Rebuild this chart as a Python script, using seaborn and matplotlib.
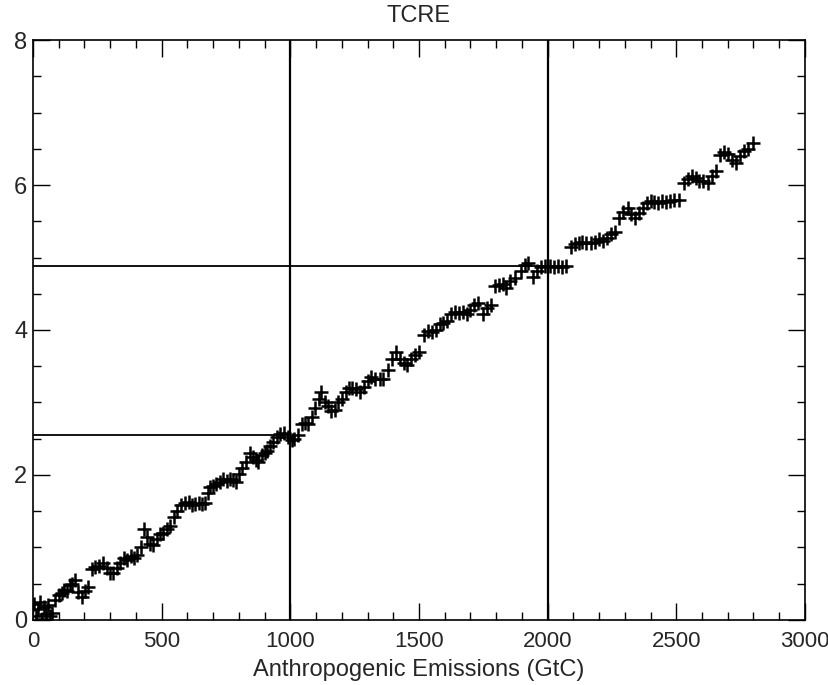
import matplotlib
matplotlib.use("Agg")
import matplotlib.pyplot as plt
import matplotlib.transforms as mtransforms
import seaborn as sns
import pandas as pd
from matplotlib.ticker import MultipleLocator

sns.set_theme(style="white")
plt.rcParams['font.family'] = ['Liberation Sans', 'DejaVu Sans']

emissions = [5, 12, 20, 28, 35, 42, 50, 58, 66, 75, 85,
             100, 112, 122, 132, 142, 152, 163, 175, 190, 203, 215, 230, 242, 257, 273, 288, 300,
             312, 325, 340, 352, 365, 380, 393, 404, 418, 430, 442, 455, 468, 480, 493, 507, 520,
             533, 547, 560, 575, 591, 605, 618, 630, 645, 657, 669, 680, 689, 700, 713, 728, 740,
             753, 767, 778, 787, 800, 813, 828, 844, 856, 866, 876, 890, 900, 910, 922, 934, 948,
             961, 975, 990, 1005, 1015, 1030, 1045, 1058, 1070, 1085, 1097, 1110, 1120, 1133, 1147,
             1160, 1172, 1185, 1202, 1215, 1228, 1240, 1255, 1272, 1285, 1300, 1315, 1330, 1348,
             1362, 1380, 1395, 1410, 1425, 1440, 1455, 1470, 1485, 1500, 1518, 1535, 1550, 1565,
             1580, 1595, 1610, 1625, 1640, 1655, 1670, 1685, 1700, 1715, 1730, 1750, 1765, 1780,
             1797, 1810, 1825, 1840, 1855, 1875, 1895, 1912, 1925, 1945, 1960, 1975, 1990, 2010,
             2025, 2040, 2055, 2070, 2090, 2105, 2120, 2135, 2150, 2167, 2185, 2200, 2215, 2230,
             2245, 2262, 2276, 2292, 2311, 2325, 2340, 2355, 2370, 2385, 2400, 2415, 2430, 2445,
             2460, 2475, 2490, 2510, 2529, 2545, 2560, 2575, 2590, 2605, 2622, 2640, 2654, 2670,
             2685, 2700, 2718, 2731, 2748, 2763, 2780, 2798]

warming = [0.22, 0.05, 0.15, 0.25, 0.02, 0.18, 0.08, 0.20, 0.05, 0.10, 0.28,
           0.35, 0.37, 0.42, 0.40, 0.48, 0.50, 0.55, 0.38, 0.32, 0.40, 0.46, 0.70, 0.73, 0.75, 0.78, 0.72, 0.65,
           0.65, 0.72, 0.78, 0.85, 0.83, 0.88, 0.85, 0.90, 1.00, 1.25, 1.15, 1.05, 1.03, 1.12, 1.18, 1.20, 1.25,
           1.30, 1.42, 1.50, 1.58, 1.62, 1.63, 1.58, 1.60, 1.62, 1.60, 1.62, 1.75, 1.83, 1.85, 1.88, 1.90, 1.95,
           1.92, 1.95, 1.93, 1.90, 2.02, 2.10, 2.18, 2.30, 2.25, 2.20, 2.18, 2.28, 2.30, 2.33, 2.40, 2.45, 2.52,
           2.57, 2.58, 2.52, 2.48, 2.50, 2.55, 2.70, 2.72, 2.70, 2.80, 2.93, 3.05, 3.15, 3.00, 2.95,
           2.88, 2.90, 3.00, 3.05, 3.15, 3.20, 3.20, 3.18, 3.15, 3.22, 3.30, 3.35, 3.33, 3.33,
           3.32, 3.45, 3.60, 3.70, 3.60, 3.55, 3.52, 3.60, 3.65, 3.70, 3.93, 3.98, 3.97, 4.00,
           4.08, 4.10, 4.13, 4.22, 4.25, 4.23, 4.25, 4.22, 4.28, 4.35, 4.37, 4.22, 4.30, 4.35,
           4.60, 4.62, 4.63, 4.58, 4.68, 4.72, 4.82, 4.90, 4.93, 4.73, 4.82, 4.87, 4.88, 4.88,
           4.87, 4.88, 4.87, 4.88, 5.15, 5.18, 5.20, 5.22, 5.20, 5.20, 5.22, 5.25, 5.23, 5.27,
           5.32, 5.35, 5.55, 5.63, 5.68, 5.60, 5.55, 5.62, 5.68, 5.75, 5.78, 5.77, 5.75, 5.78,
           5.77, 5.78, 5.80, 5.80, 6.03, 6.08, 6.13, 6.10, 6.05, 6.05, 6.03, 6.12, 6.20, 6.42,
           6.45, 6.43, 6.35, 6.30, 6.40, 6.47, 6.50, 6.58]

ref_emissions = [1000, 2000]
ref_warming = [2.55, 4.88]

df = pd.DataFrame({"emissions": emissions, "warming": warming})

fig = plt.figure(figsize=(8.29, 6.85), dpi=100)
ax = fig.add_axes([0.0398, 0.0949, 0.9312, 0.8467])

sns.scatterplot(data=df, x="emissions", y="warming", marker="+", s=90,
                color="black", linewidth=1.8, ax=ax, zorder=3)

for xe, yw in zip(ref_emissions, ref_warming):
    ax.axvline(xe, color="black", lw=1.6, zorder=2)
    ax.plot([0, xe], [yw, yw], color="black", lw=1.3, zorder=2)

ax.set_xlim(0, 3000)
ax.set_ylim(0, 8)
ax.xaxis.set_major_locator(MultipleLocator(500))
ax.xaxis.set_minor_locator(MultipleLocator(100))
ax.yaxis.set_major_locator(MultipleLocator(2))
ax.yaxis.set_minor_locator(MultipleLocator(0.5))
ax.tick_params(which="both", direction="in", top=True, right=True, bottom=True, left=True,
               color="black", width=1.0)
ax.tick_params(which="major", length=12, labelsize=16, pad=8)
ax.tick_params(which="minor", length=6)
ax.tick_params(axis="y", which="major", pad=4, labelsize=17)
for sp in ax.spines.values():
    sp.set_color("black")
    sp.set_linewidth(1.2)

ax.set_xlabel("Anthropogenic Emissions (GtC)", fontsize=17, labelpad=5)
ax.set_ylabel("")
ax.set_title("TCRE", fontsize=17, pad=13)

fig.canvas.draw()
last = ax.get_xticklabels()[-1]
last.set_transform(last.get_transform() + mtransforms.ScaledTranslation(-4 / 100, 0, fig.dpi_scale_trans))

fig.savefig("out.png", dpi=100)
